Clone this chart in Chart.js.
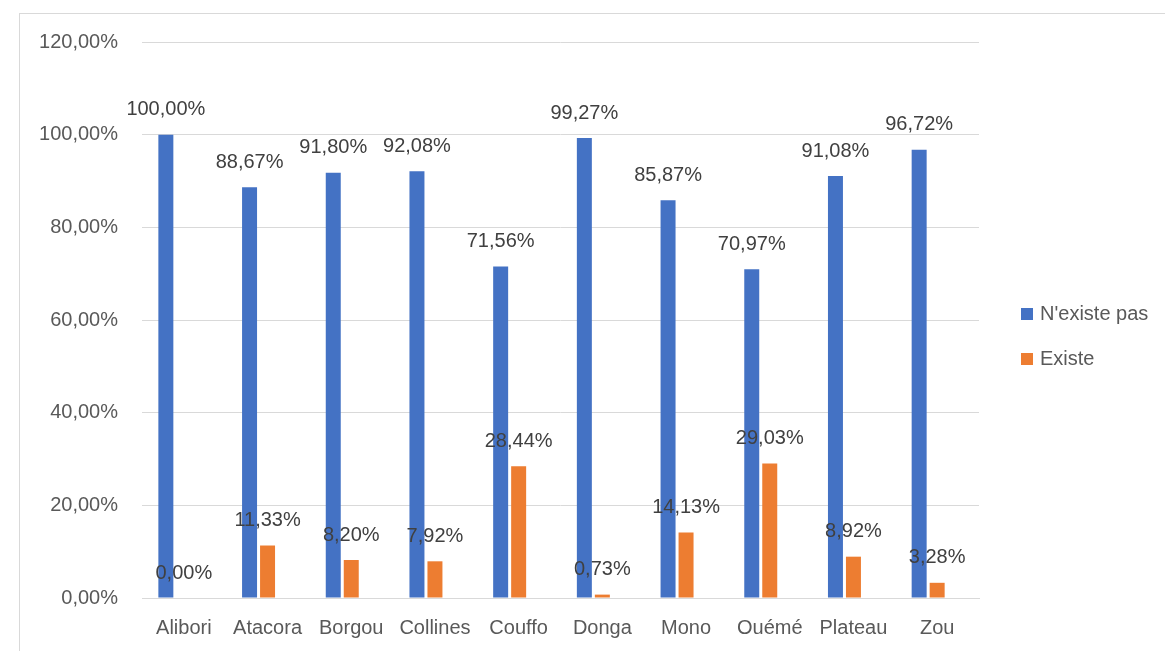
<!DOCTYPE html>
<html>
<head>
<meta charset="utf-8">
<script src="https://cdn.jsdelivr.net/npm/chart.js@4.4.1/dist/chart.umd.min.js"></script>
<style>
  body { margin: 0; background: #fff; overflow: hidden; }
  #frame { position: absolute; left: 19px; top: 13px; width: 1200px; height: 700px; border: 1px solid #d9d9d9; }
  canvas { display: block; }
</style>
</head>
<body>
<div id="frame"><canvas id="chart" width="1145" height="637"></canvas></div>
<script>
var departements = ['Alibori', 'Atacora', 'Borgou', 'Collines', 'Couffo', 'Donga', 'Mono', 'Ouémé', 'Plateau', 'Zou'];
var nExistePas = [100.00, 88.67, 91.80, 92.08, 71.56, 99.27, 85.87, 70.97, 91.08, 96.72];
var existe = [0.00, 11.33, 8.20, 7.92, 28.44, 0.73, 14.13, 29.03, 8.92, 3.28];
var yMax = 120;
var yStep = 20;

function pct(v) {
    return v.toFixed(2).replace('.', ',') + '%';
}

Chart.defaults.font.family = '"Liberation Sans", Arial, sans-serif';
Chart.defaults.font.size = 20;
Chart.defaults.color = '#595959';

// value labels above each bar
var valueLabels = {
    id: 'valueLabels',
    afterDatasetsDraw: function(chart) {
        var ctx = chart.ctx;
        ctx.save();
        ctx.font = '20px "Liberation Sans", Arial, sans-serif';
        ctx.fillStyle = '#404040';
        ctx.textAlign = 'center';
        ctx.textBaseline = 'middle';
        chart.data.datasets.forEach(function(ds, i) {
            if (!ds.label) return;
            chart.getDatasetMeta(i).data.forEach(function(bar, j) {
                ctx.fillText(pct(ds.data[j]), bar.x, bar.y - 25);
            });
        });
        ctx.restore();
    }
};

// legend on the right, excel style
var sideLegend = {
    id: 'sideLegend',
    afterDraw: function(chart) {
        var ctx = chart.ctx;
        var area = chart.chartArea;
        var x = area.right + 42;
        var y = area.top + 272;
        ctx.save();
        ctx.font = '20px "Liberation Sans", Arial, sans-serif';
        ctx.textBaseline = 'middle';
        ctx.textAlign = 'left';
        chart.data.datasets.forEach(function(ds) {
            if (!ds.label) return;
            ctx.fillStyle = ds.backgroundColor;
            ctx.fillRect(x, y - 6, 12, 12);
            ctx.fillStyle = '#595959';
            ctx.fillText(ds.label, x + 19, y);
            y += 45;
        });
        ctx.restore();
    }
};

var ctx = document.getElementById('chart').getContext('2d');
var chart = new Chart(ctx, {
    type: 'bar',
    data: {
        labels: departements,
        datasets: [
            { label: "N'existe pas", data: nExistePas, backgroundColor: '#4472C4' },
            { label: 'Existe', data: existe, backgroundColor: '#ED7D31' },
            // empty slot so the pair sits left of the category centre like in excel
            { label: '', data: departements.map(function() { return null; }), backgroundColor: 'rgba(0,0,0,0)' }
        ]
    },
    options: {
        responsive: false,
        animation: false,
        devicePixelRatio: 1,
        categoryPercentage: 0.645,
        barPercentage: 0.833,
        layout: { padding: { top: 28, right: 186, bottom: 11, left: 0 } },
        plugins: {
            legend: { display: false },
            tooltip: { enabled: false }
        },
        scales: {
            x: {
                afterFit: function(scale) { scale.height = 42; },
                grid: { display: false },
                border: { display: true, color: '#d9d9d9' },
                ticks: { padding: 10, maxRotation: 0, autoSkip: false, color: '#595959' }
            },
            y: {
                min: 0,
                max: yMax,
                afterFit: function(scale) {
                    scale.width = 122;
                    scale.paddingTop = 0;
                },
                grid: { color: '#d9d9d9', drawTicks: false },
                border: { display: false },
                ticks: {
                    stepSize: yStep,
                    padding: 24,
                    color: '#595959',
                    callback: function(v) { return pct(v); }
                }
            }
        }
    },
    plugins: [valueLabels, sideLegend]
});
</script>
</body>
</html>
